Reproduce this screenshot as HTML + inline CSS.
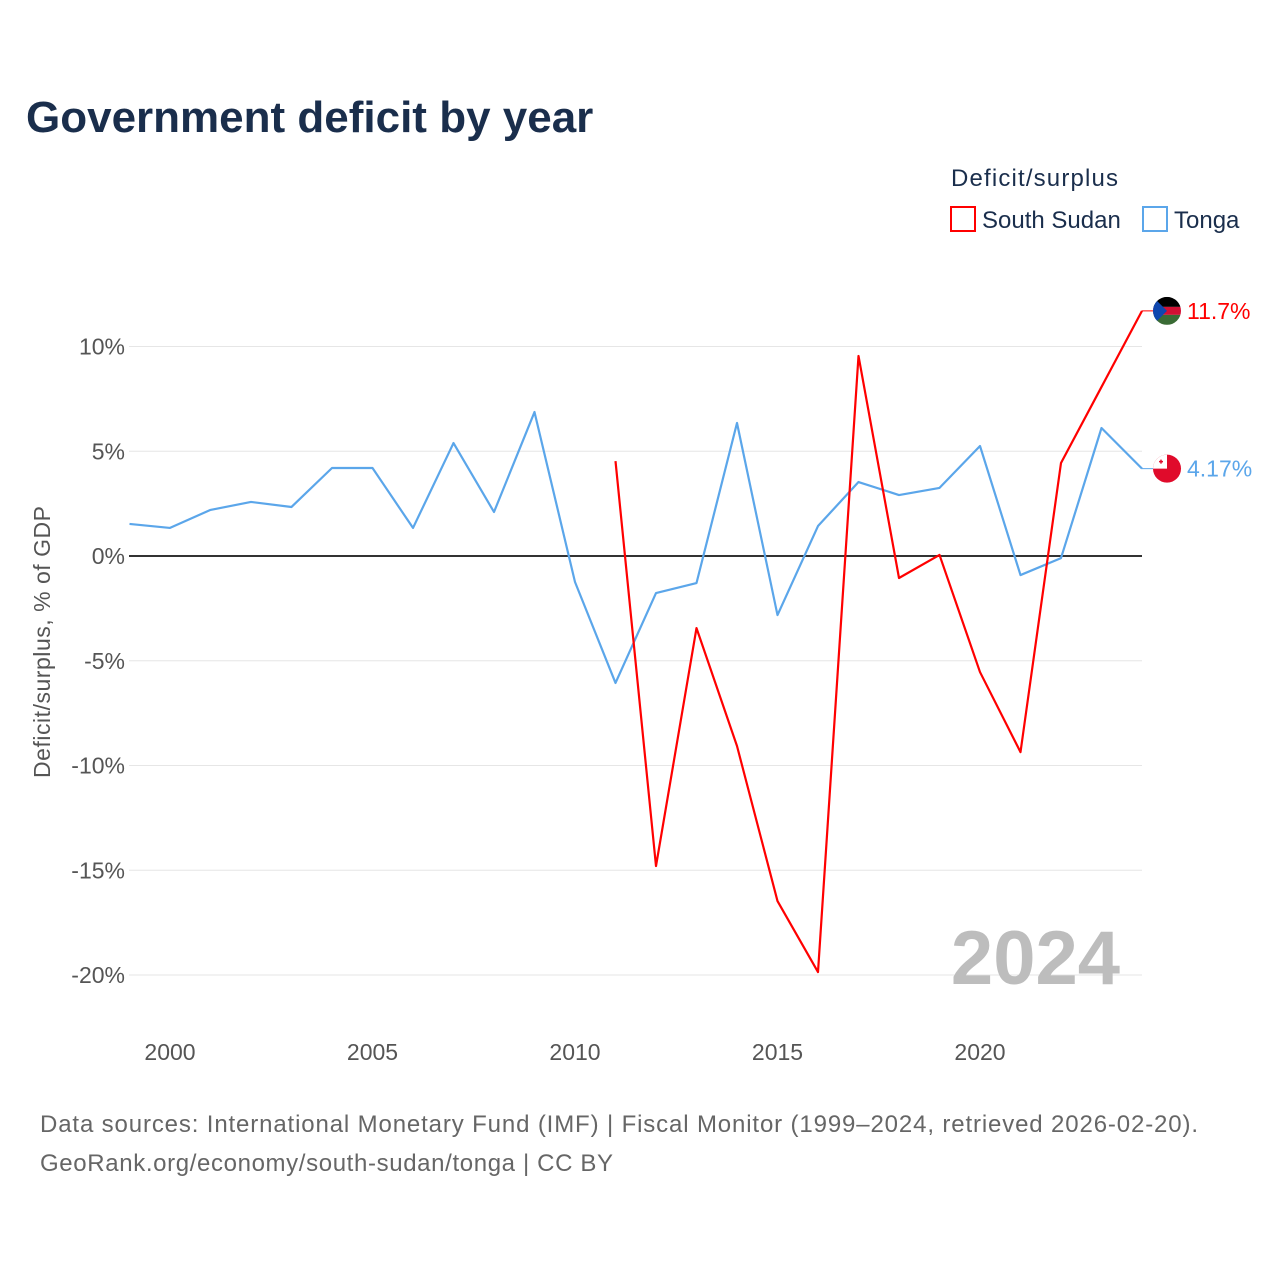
<!DOCTYPE html>
<html><head><meta charset="utf-8"><style>
body{margin:0;background:#fff;width:1280px;height:1280px;overflow:hidden;font-family:"Liberation Sans",sans-serif}
</style></head><body>
<svg width="1280" height="1280" xmlns="http://www.w3.org/2000/svg">
<text x="26" y="132" font-size="44" font-weight="bold" fill="#1a2e4c">Government deficit by year</text>
<text x="951" y="186" font-size="24" fill="#1a2e4c" textLength="167">Deficit/surplus</text>
<g><rect x="951" y="207" width="24" height="24" fill="none" stroke="#f00" stroke-width="2"/><text x="982" y="228" font-size="24" fill="#1a2e4c">South Sudan</text></g>
<g><rect x="1143" y="207" width="24" height="24" fill="none" stroke="#5ba6ea" stroke-width="2"/><text x="1174" y="228" font-size="24" fill="#1a2e4c">Tonga</text></g>
<g id="grid"></g><g id="yt"></g><g id="xt"></g>
<text transform="translate(50,642) rotate(-90)" text-anchor="middle" font-size="23" fill="#555" textLength="272">Deficit/surplus, % of GDP</text>
<text x="1120" y="984" text-anchor="end" font-size="76" font-weight="bold" fill="#bdbdbd">2024</text>
<g id="lines"></g>
<text x="40" y="1132" font-size="24" fill="#666" textLength="1158">Data sources: International Monetary Fund (IMF) | Fiscal Monitor (1999–2024, retrieved 2026-02-20).</text>
<text x="40" y="1171" font-size="24" fill="#666" textLength="573">GeoRank.org/economy/south-sudan/tonga | CC BY</text>
</svg>
<script>
const yTicks=[10,5,0,-5,-10,-15,-20];
const xTicks=[2000,2005,2010,2015,2020];
const tongaYears=[1999,2000,2001,2002,2003,2004,2005,2006,2007,2008,2009,2010,2011,2012,2013,2014,2015,2016,2017,2018,2019,2020,2021,2022,2023,2024];
const tongaValues=[1.53,1.34,2.2,2.58,2.34,4.2,4.2,1.34,5.39,2.1,6.87,-1.24,-6.06,-1.77,-1.29,6.35,-2.82,1.43,3.53,2.91,3.25,5.25,-0.91,-0.1,6.11,4.17];
const ssYears=[2011,2012,2013,2014,2015,2016,2017,2018,2019,2020,2021,2022,2023,2024];
const ssValues=[4.53,-14.8,-3.44,-9.07,-16.47,-19.86,9.55,-1.05,0.05,-5.54,-9.36,4.44,8.07,11.7];
const NS='http://www.w3.org/2000/svg';
const X=y=>129.5+(y-1999)*40.5, Y=v=>556-v*20.95;
function mk(t,a,p){const e=document.createElementNS(NS,t);for(const k in a)e.setAttribute(k,a[k]);document.getElementById(p).appendChild(e);return e;}
yTicks.forEach(v=>{
 const l=mk('line',{x1:129,x2:1142,y1:Y(v),y2:Y(v),stroke:v===0?'#333':'#e6e6e6','stroke-width':v===0?2:1},'grid');
 
 
 const t=mk('text',{x:125,y:Y(v)+8,'text-anchor':'end','font-size':23,fill:'#555'},'yt');t.textContent=v+'%';
 
 
});
xTicks.forEach(v=>{const t=mk('text',{x:X(v),y:1060,'text-anchor':'middle','font-size':23,fill:'#555'},'xt');t.textContent=v;
 
 });
function line(ys,vs,c,n){const p=mk('polyline',{points:ys.map((y,i)=>X(y)+','+Y(vs[i])).join(' '),fill:'none',stroke:c,'stroke-width':2.2,'stroke-linejoin':'round'},'lines');
 
 }
line(tongaYears,tongaValues,'#5ba6ea','tonga-line');
line(ssYears,ssValues,'#f00','south-sudan-line');
function end(v,c,n,fl){const x=X(2024),y=Y(v);
 mk('line',{x1:x,x2:x+12,y1:y,y2:y,stroke:c,'stroke-width':1},'lines');
 const g=mk('g',{},'lines');
 g.innerHTML=fl(x+25,y);
 const t=mk('text',{x:x+45,y:y+8,'font-size':23,fill:c},'lines');t.textContent=v+'%';
 
 }
end(11.7,'#f00','south-sudan',(cx,cy)=>`<clipPath id="c1"><circle cx="${cx}" cy="${cy}" r="14"/></clipPath><g clip-path="url(#c1)"><rect x="${cx-14}" y="${cy-14}" width="28" height="10" fill="#000"/><rect x="${cx-14}" y="${cy-4}" width="28" height="8" fill="#d21034"/><rect x="${cx-14}" y="${cy+4}" width="28" height="10" fill="#3a6b35"/><polygon points="${cx-14},${cy-14} ${cx},${cy} ${cx-14},${cy+14}" fill="#0f47af"/></g>`);
end(4.17,'#5ba6ea','tonga',(cx,cy)=>`<circle cx="${cx}" cy="${cy}" r="14" fill="#e00b2b"/><path d="M${cx-14},${cy} A14,14 0 0 1 ${cx},${cy-14} L${cx},${cy} Z" fill="#fff"/><path d="M${cx-8},${cy-7}h4M${cx-6},${cy-9}v4" stroke="#e00b2b" stroke-width="1.5"/>`);
</script>
</body></html>
